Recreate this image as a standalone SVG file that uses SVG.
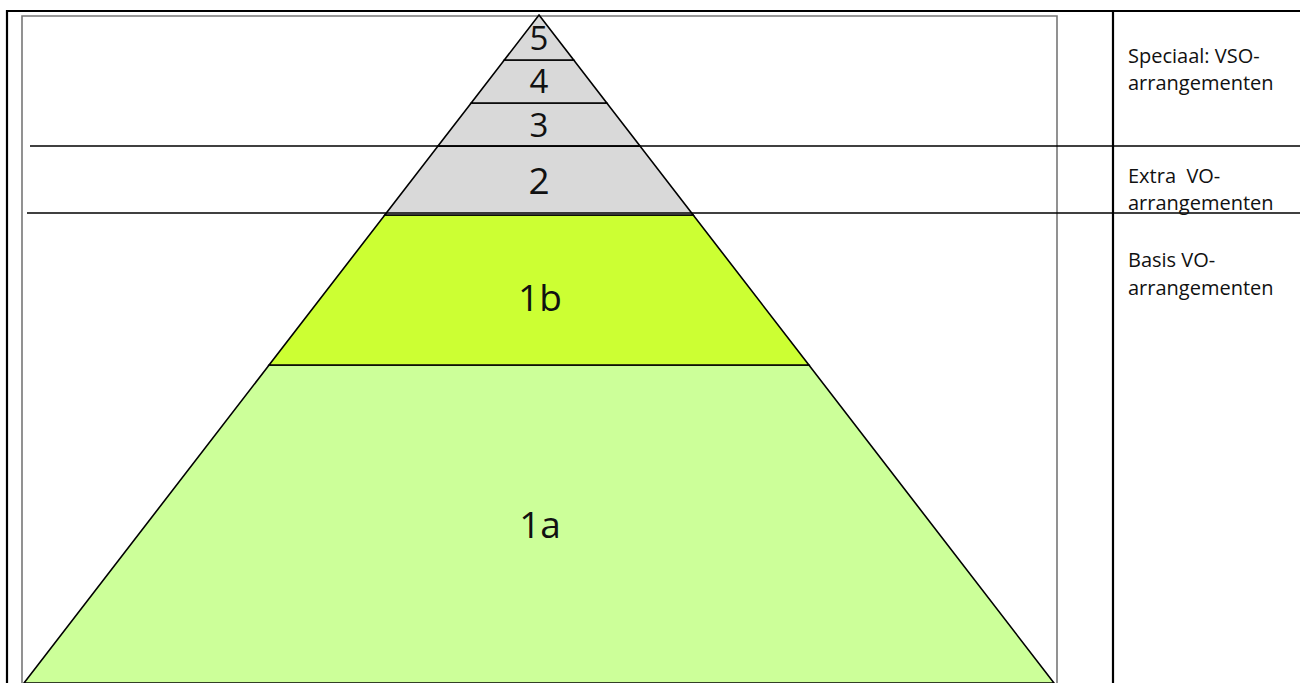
<svg xmlns="http://www.w3.org/2000/svg" width="1300" height="683" viewBox="0 0 1300 683">
<style>
.band{stroke:#000;stroke-width:1.6;stroke-linejoin:miter}
.grey{fill:#d9d9d9}
.num{font-family:"Open Sans","Noto Sans",sans-serif;font-size:37px;fill:#111;text-anchor:middle}
.sm{font-size:33px}
.lbl{font-family:"Open Sans","Noto Sans",sans-serif;font-size:20px;fill:#111}
.rule{stroke:#000;stroke-width:1.6;fill:none}
.frame{stroke:#000;stroke-width:2.2;fill:none}
</style>
<rect width="1300" height="683" fill="#fff"/>
<g id="frame">
<path class="frame" d="M7,683 V11 H1300"/>
<path d="M22,683 V16 H1057 V683" fill="none" stroke="#777" stroke-width="1.6"/>
<line class="frame" x1="1113" y1="11" x2="1113" y2="683"/>
</g>
<g id="level-1a">
<polygon class="band" points="269.1,365 808.9,365 1054,683 24,683" fill="#ccff99"/>
<text class="num" x="540" y="538">1a</text>
</g>
<g id="level-1b">
<polygon class="band" points="384.8,215 693.2,215 808.9,365 269.1,365" fill="#ccff33"/>
<text class="num" x="540" y="311">1b</text>
</g>
<g id="level-2">
<polygon class="band grey" points="438,146 640,146 693.2,215 384.8,215"/>
<text class="num" x="539" y="194">2</text>
</g>
<g id="level-3">
<polygon class="band grey" points="471.2,103 606.8,103 640,146 438,146"/>
<text class="num sm" x="539" y="137">3</text>
</g>
<g id="level-4">
<polygon class="band grey" points="504.3,60 573.7,60 606.8,103 471.2,103"/>
<text class="num sm" x="539" y="93">4</text>
</g>
<g id="level-5">
<polygon class="band grey" points="539,15 573.7,60 504.3,60"/>
<text class="num sm" x="539" y="50">5</text>
</g>
<g id="connectors">
<line class="rule" x1="30" y1="146" x2="1300" y2="146"/>
<line class="rule" x1="27" y1="213" x2="1300" y2="213"/>
</g>
<g id="label-speciaal">
<text class="lbl" x="1128" y="63">Speciaal: VSO-</text>
<text class="lbl" x="1128" y="90">arrangementen</text>
</g>
<g id="label-extra">
<text class="lbl" x="1128" y="183" xml:space="preserve">Extra  VO-</text>
<text class="lbl" x="1128" y="210">arrangementen</text>
</g>
<g id="label-basis">
<text class="lbl" x="1128" y="267">Basis VO-</text>
<text class="lbl" x="1128" y="295">arrangementen</text>
</g>
</svg>
